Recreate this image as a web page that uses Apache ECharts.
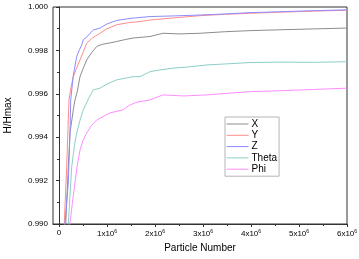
<!DOCTYPE html>
<html>
<head>
<meta charset="utf-8">
<script src="https://cdn.jsdelivr.net/npm/echarts@6/dist/echarts.min.js"></script>
<style>
html,body{margin:0;padding:0;background:#fff;}
#chart{width:359px;height:259px;}
</style>
</head>
<body>
<div id="chart"></div>
<script>
// x in units of 1e6 particles, y = H/Hmax
var seriesNames = ['X', 'Y', 'Z', 'Theta', 'Phi'];
var seriesColors = ['#8c8c8c', '#ff8c8c', '#8c8cff', '#8ccfc6', '#ff8cff'];

var dataX = [[0.13,0.9895],[0.17,0.9915],[0.229,0.9942],[0.298,0.99526],[0.333,0.99572],[0.38,0.99610],[0.4375,0.99679],[0.50,0.99715],[0.577,0.99756],[0.68,0.99790],[0.785,0.99818],[0.90,0.99828],[1.05,0.99834],[1.202,0.99841],[1.38,0.99850],[1.542,0.99857],[1.896,0.99864],[2.167,0.99879],[2.5,0.99876],[2.938,0.99879],[3.45,0.99886],[3.979,0.99891],[4.6,0.99895],[5.3,0.99899],[6.0,0.99903]];
var dataY = [[0.10,0.9895],[0.16,0.99264],[0.208,0.99572],[0.25,0.99630],[0.298,0.99679],[0.37,0.99720],[0.4375,0.99756],[0.50,0.99790],[0.577,0.99833],[0.70,0.99858],[0.854,0.99879],[1.0,0.99900],[1.202,0.99918],[1.45,0.99928],[1.6875,0.99933],[1.896,0.99940],[2.4,0.99950],[2.938,0.99960],[3.45,0.99966],[3.979,0.99971],[4.6,0.99976],[5.3,0.99981],[6.0,0.99985]];
var dataZ = [[0.11,0.9895],[0.125,0.99005],[0.194,0.9919],[0.229,0.9942],[0.244,0.99572],[0.298,0.99685],[0.369,0.99771],[0.42,0.99800],[0.473,0.99825],[0.506,0.99849],[0.58,0.99862],[0.646,0.99879],[0.715,0.99894],[0.854,0.99903],[1.0,0.99922],[1.202,0.99938],[1.5,0.99948],[1.896,0.99956],[2.4,0.99959],[2.938,0.99963],[3.45,0.99968],[3.979,0.99974],[4.6,0.99978],[5.3,0.99983],[6.0,0.99987]];
var dataTheta = [[0.17,0.9895],[0.194,0.99003],[0.265,0.99264],[0.32,0.99360],[0.369,0.99419],[0.44,0.99480],[0.506,0.99526],[0.54,0.99530],[0.62,0.99580],[0.715,0.99618],[0.854,0.99626],[1.0,0.99645],[1.202,0.99664],[1.38,0.99672],[1.542,0.99679],[1.6875,0.99679],[1.896,0.99702],[2.1,0.99710],[2.375,0.99718],[2.7,0.99724],[3.083,0.99733],[3.5,0.99738],[3.979,0.99744],[4.6,0.99746],[5.3,0.99745],[6.0,0.99748]];
var dataPhi = [[0.21,0.9895],[0.229,0.99005],[0.28,0.99100],[0.333,0.99189],[0.38,0.99270],[0.4375,0.99341],[0.50,0.99385],[0.577,0.99419],[0.68,0.99455],[0.785,0.99479],[0.917,0.99495],[1.0625,0.99512],[1.333,0.99526],[1.45,0.99545],[1.6,0.99560],[1.896,0.99572],[2.167,0.99595],[2.6,0.99590],[3.083,0.99595],[3.5,0.99602],[3.979,0.9961],[4.6,0.99614],[5.3,0.99620],[6.0,0.99626]];

var yMin = 0.990, yMax = 1.000, yStep = 0.002;
var xMin = -0.125, xMax = 6;
var xMajor = [0, 1, 2, 3, 4, 5, 6];
var xMinor = [0.5, 1.5, 2.5, 3.5, 4.5, 5.5];

var allData = [dataX, dataY, dataZ, dataTheta, dataPhi];
var font = 'Liberation Sans, Arial, sans-serif';

var chart = echarts.init(document.getElementById('chart'));

var series = seriesNames.map(function(name, i) {
    return {
        name: name,
        type: 'line',
        xAxisIndex: 0,
        data: allData[i],
        symbol: 'none',
        clip: true,
        lineStyle: {color: seriesColors[i], width: 1},
        itemStyle: {color: seriesColors[i]}
    };
});

var option = {
    animation: false,
    backgroundColor: '#fff',
    grid: {
        left: 53, right: 12, top: 7, bottom: 35,
        outerBoundsMode: 'none',
        show: true,
        borderColor: '#333',
        borderWidth: 1
    },
    legend: {
        orient: 'vertical',
        left: 225,
        top: 117,
        data: seriesNames,
        itemWidth: 22,
        itemHeight: 12,
        itemGap: 1.3,
        padding: [2, 2, 2, 1],
        borderColor: '#b5b5b5',
        borderWidth: 1,
        itemStyle: {opacity: 0},
        lineStyle: {width: 1},
        textStyle: {color: '#000', fontFamily: font, fontSize: 10, padding: [0, 0, 0, -2]}
    },
    xAxis: [{
        type: 'value',
        min: xMin,
        max: xMax,
        name: 'Particle Number',
        nameLocation: 'middle',
        nameGap: 19,
        nameTextStyle: {color: '#000', fontFamily: font, fontSize: 10},
        axisLine: {show: true, lineStyle: {color: '#333', width: 1}},
        axisTick: {show: true, customValues: xMajor, length: 3, lineStyle: {color: '#333'}},
        axisLabel: {
            customValues: xMajor,
            margin: 5,
            color: '#000',
            fontFamily: font,
            fontSize: 8,
            formatter: function(v) {
                if (v === 0) return '{a|0}';
                return '{a|' + v + 'x10}{s|6}';
            },
            rich: {
                a: {fontFamily: font, fontSize: 8, color: '#000'},
                s: {fontFamily: font, fontSize: 5, color: '#000', verticalAlign: 'top', padding: [0, 0, 4, 0]}
            }
        },
        splitLine: {show: false}
    }, {
        type: 'value',
        min: xMin,
        max: xMax,
        position: 'bottom',
        axisLine: {show: false},
        axisTick: {show: true, customValues: xMinor, length: 2, lineStyle: {color: '#333'}},
        axisLabel: {show: false},
        splitLine: {show: false}
    }],
    yAxis: {
        type: 'value',
        min: yMin,
        max: yMax,
        interval: yStep,
        name: 'H/Hmax',
        nameLocation: 'middle',
        nameGap: 40,
        nameRotate: 90,
        nameTextStyle: {color: '#000', fontFamily: font, fontSize: 10},
        axisLine: {show: true, lineStyle: {color: '#333', width: 1}},
        axisTick: {show: true, length: 3, lineStyle: {color: '#333'}},
        minorTick: {show: true, splitNumber: 2, length: 2, lineStyle: {color: '#333'}},
        axisLabel: {
            margin: 5,
            color: '#000',
            fontFamily: font,
            fontSize: 8,
            formatter: function(v) { return v.toFixed(3); }
        },
        splitLine: {show: false}
    },
    series: series
};

chart.setOption(option);
</script>
</body>
</html>
